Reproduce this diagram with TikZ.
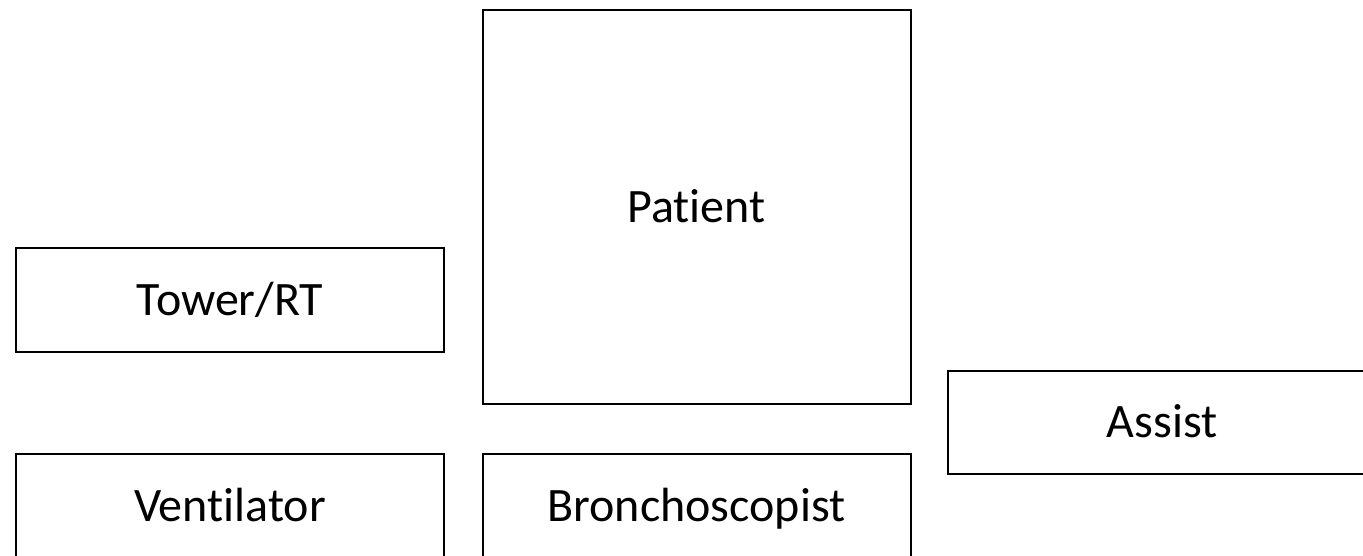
\documentclass[tikz,border=0pt]{standalone}
\usepackage{fontspec}
\setmainfont{Carlito}[Ligatures=NoCommon]
\begin{document}
\begin{tikzpicture}[x=0.75pt,y=-0.75pt, line join=miter,
	box/.style={draw, line width=1.5pt, inner sep=0pt, text height=23pt, text depth=0pt, minimum width=321pt, minimum height=78pt, font=\fontsize{36}{43}\selectfont}]
	% --- Khung hình ---
	\def\xmin{0} \def\xmax{1363}
	\def\ymin{0} \def\ymax{556}
	\clip (\xmin,\ymin) rectangle (\xmax,\ymax);
	
	% --- Các ô ---
	\node[box, minimum height=295.5pt] (patient) at (696.5,207) {Patient};
	\node[box] (tower) at (230,300) {Tower/RT};
	\node[box, minimum height=77.25pt] (assist) at (1162,422.5) {Assist};
	\node[box] (ventilator) at (230,506) {Ventilator};
	\node[box] (broncho) at (696.5,506) {Bronchoscopist};
\end{tikzpicture}
\end{document}
